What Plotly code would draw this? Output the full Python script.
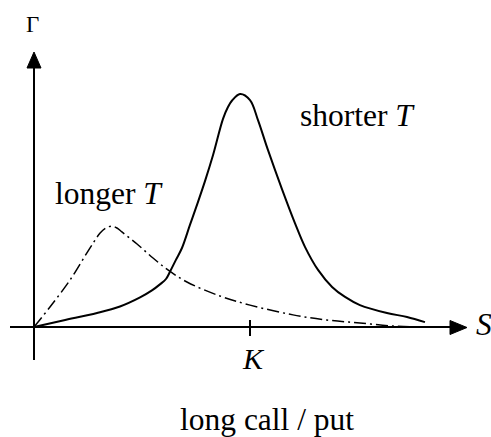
import plotly.graph_objects as go

# Gamma of a long call / put against the underlying price S (strike K = 100)
strike = 100.0

s_short = [0, 13.4, 29.2, 39.8, 49.1, 54.6, 58.3, 61.1, 63.0, 65.7, 68.5, 72.2, 75.9,
           79.2, 82.9, 87.5, 89.8, 91.7, 95.4, 100.0, 103.7, 108.3, 114.8, 120.8,
           125.5, 131.5, 138.0, 144.0, 150.9, 163.4, 172.7, 181.0]
gamma_short = [0, 0.028, 0.060, 0.088, 0.127, 0.157, 0.183, 0.206, 0.238, 0.288, 0.339,
               0.438, 0.536, 0.627, 0.738, 0.893, 0.944, 0.972, 1.000, 0.974, 0.888,
               0.760, 0.592, 0.446, 0.343, 0.245, 0.172, 0.129, 0.094, 0.060, 0.043,
               0.021]

s_long = [0, 7.4, 16.7, 24.5, 30.6, 33.3, 36.1, 38.4, 40.7, 47.7, 55.1, 62.0, 70.8,
          86.1, 100.0, 119.9, 135.6, 150.9, 166.2, 178.7]
gamma_long = [0, 0.086, 0.202, 0.318, 0.403, 0.425, 0.433, 0.425, 0.408, 0.356, 0.296,
              0.245, 0.193, 0.133, 0.094, 0.052, 0.030, 0.017, 0.004, 0.0]

# canvas geometry: pixel position of the origin and pixels per unit
W, H = 491, 437
OX, OY = 34, 327
PX_S, PX_G = 2.16, 233.0


def sx(px):
    return (px - OX) / PX_S


def gy(py):
    return (OY - py) / PX_G


SERIF = "Liberation Serif, Times New Roman, serif"

fig = go.Figure()
fig.add_trace(go.Scatter(x=s_long, y=gamma_long, mode="lines",
                         line=dict(color="black", width=1.5, dash="12px,4px,2px,4px",
                                   shape="spline", smoothing=1.0),
                         hoverinfo="skip"))
fig.add_trace(go.Scatter(x=s_short, y=gamma_short, mode="lines",
                         line=dict(color="black", width=2, shape="spline", smoothing=1.0),
                         hoverinfo="skip"))


def path(points):
    return "M " + " L ".join(f"{sx(a)},{gy(b)}" for a, b in points) + " Z"


shapes = [
    # vertical axis with arrowhead
    dict(type="line", x0=0, x1=0, y0=gy(360), y1=gy(66),
         line=dict(color="black", width=2)),
    dict(type="path", path=path([(OX, 52), (OX - 7, 68), (OX + 7, 68)]),
         fillcolor="black", line=dict(color="black", width=1)),
    # horizontal axis with arrowhead
    dict(type="line", x0=sx(10), x1=sx(452), y0=0, y1=0,
         line=dict(color="black", width=2)),
    dict(type="path", path=path([(467, OY + 0.5), (450, OY - 6.5), (450, OY + 7.5)]),
         fillcolor="black", line=dict(color="black", width=1)),
    # strike tick
    dict(type="line", x0=strike, x1=strike, y0=gy(320), y1=gy(336),
         line=dict(color="black", width=2)),
]
for s in shapes:
    s.update(xref="x", yref="y", layer="above")
fig.update_layout(shapes=shapes)


def label(text, px, py, size):
    fig.add_annotation(x=sx(px), y=gy(py), xref="x", yref="y", text=text,
                       showarrow=False, xanchor="center", yanchor="middle",
                       borderpad=0,
                       font=dict(family=SERIF, size=size, color="black"))


label("Γ", 32, 24, 23)
label("longer <i>T</i>", 109, 193, 31.5)
label("shorter <i>T</i>", 357, 115, 31.5)
label("<i>S</i>", 484, 324, 31.5)
label("<i>K</i>", 253, 358, 30)
label("long call / put", 267, 419, 31.5)

fig.update_layout(
    width=W, height=H, margin=dict(l=0, r=0, t=0, b=0),
    paper_bgcolor="white", plot_bgcolor="white", showlegend=False,
    font=dict(family=SERIF),
    xaxis=dict(range=[sx(0), sx(W)], visible=False, fixedrange=True),
    yaxis=dict(range=[gy(H), gy(0)], visible=False, fixedrange=True),
)

fig.write_html("out.html")
